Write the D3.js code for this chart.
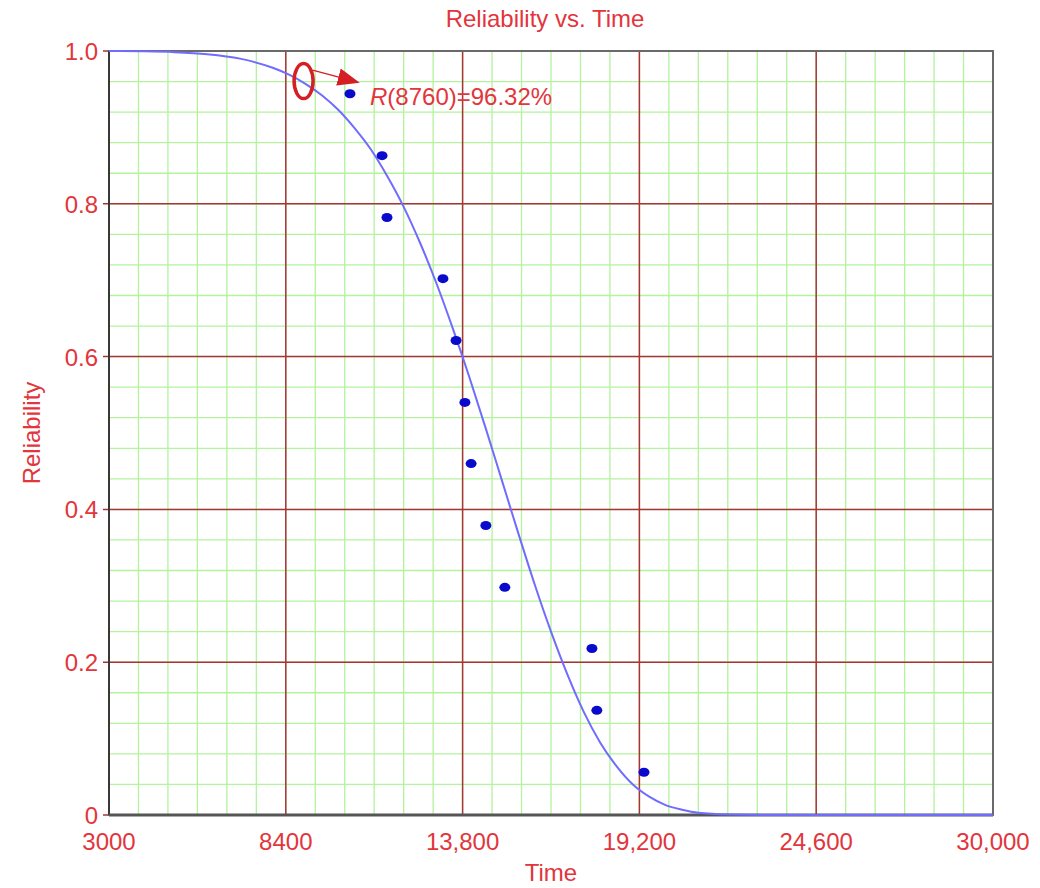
<!DOCTYPE html>
<html>
<head>
<meta charset="utf-8">
<script src="https://cdn.jsdelivr.net/npm/d3@7"></script>
<style>
  body { margin: 0; background: #fff; }
  text { font-family: "Liberation Sans", Arial, sans-serif; }
</style>
</head>
<body>
<script>
// data points (time, median rank reliability)
const pointTimes = [10360, 11340, 11490, 13200, 13600, 13870, 14060, 14510, 15090, 17750, 17900, 19340];
const pointRel = [0.944, 0.863, 0.782, 0.702, 0.621, 0.540, 0.460, 0.379, 0.298, 0.218, 0.137, 0.056];

// fitted reliability line
const curveTimes = [3000, 4000, 5000, 6000, 7000, 8000, 8500, 9000, 9500, 10000, 10500, 11000, 11500, 12000, 12500, 13000, 13500, 14000, 14500, 15000, 15500, 16000, 16500, 17000, 17500, 18000, 18500, 19000, 19500, 20000, 20500, 21000, 22000, 23000, 30000];
const curveRel = [1.000, 0.9996, 0.9985, 0.9958, 0.990, 0.978, 0.969, 0.957, 0.942, 0.923, 0.899, 0.871, 0.836, 0.796, 0.749, 0.696, 0.637, 0.574, 0.507, 0.438, 0.369, 0.302, 0.240, 0.184, 0.135, 0.095, 0.064, 0.040, 0.024, 0.013, 0.007, 0.003, 0.0007, 0.0001, 0];

const xTicks = [3000, 8400, 13800, 19200, 24600, 30000];
const xTickLabels = ["3000", "8400", "13,800", "19,200", "24,600", "30,000"];
const yTicks = [0, 0.2, 0.4, 0.6, 0.8, 1.0];
const yTickLabels = ["0", "0.2", "0.4", "0.6", "0.8", "1.0"];

const annotTime = 8760;
const annotRel = 0.9632;

const W = 1040, H = 888;
const margin = {top: 51, right: 47, bottom: 73, left: 109};
const red = "#e2353c";
const darkRed = "#d42024";

const svg = d3.select("body").append("svg")
  .attr("width", W)
  .attr("height", H);

const x = d3.scaleLinear().domain([3000, 30000]).range([margin.left, W - margin.right]);
const y = d3.scaleLinear().domain([0, 1]).range([H - margin.bottom, margin.top]);

// minor grid
const minorX = d3.range(3000, 30001, 900);
const minorY = d3.range(0, 1.0001, 0.04);
svg.append("g").selectAll("line").data(minorX).join("line")
  .attr("x1", d => x(d)).attr("x2", d => x(d))
  .attr("y1", y(0)).attr("y2", y(1))
  .attr("stroke", "#b2f39c").attr("stroke-width", 1.3);
svg.append("g").selectAll("line").data(minorY).join("line")
  .attr("x1", x(3000)).attr("x2", x(30000))
  .attr("y1", d => y(d)).attr("y2", d => y(d))
  .attr("stroke", "#b2f39c").attr("stroke-width", 1.3);

// major grid
svg.append("g").selectAll("line").data(xTicks).join("line")
  .attr("x1", d => x(d)).attr("x2", d => x(d))
  .attr("y1", y(0)).attr("y2", y(1))
  .attr("stroke", "#a83438").attr("stroke-width", 1.5);
svg.append("g").selectAll("line").data(yTicks).join("line")
  .attr("x1", x(3000) - 6).attr("x2", x(30000))
  .attr("y1", d => y(d)).attr("y2", d => y(d))
  .attr("stroke", "#a83438").attr("stroke-width", 1.5);

// frame
svg.append("rect")
  .attr("x", x(3000)).attr("y", y(1))
  .attr("width", x(30000) - x(3000)).attr("height", y(0) - y(1))
  .attr("fill", "none").attr("stroke", "#6a6a6a").attr("stroke-width", 2);
svg.append("line")
  .attr("x1", x(3000)).attr("x2", x(3000))
  .attr("y1", y(0)).attr("y2", y(1))
  .attr("stroke", "#383838").attr("stroke-width", 2);
svg.append("line")
  .attr("x1", x(3000)).attr("x2", x(30000))
  .attr("y1", y(0)).attr("y2", y(0))
  .attr("stroke", "#555").attr("stroke-width", 3);

// curve
const line = d3.line()
  .x((d, i) => x(curveTimes[i]))
  .y(d => y(d))
  .curve(d3.curveMonotoneX);
svg.append("path")
  .datum(curveRel)
  .attr("d", line)
  .attr("fill", "none")
  .attr("stroke", "#6f6cff")
  .attr("stroke-width", 2);

// points
svg.append("g").selectAll("ellipse").data(pointTimes).join("ellipse")
  .attr("cx", d => x(d))
  .attr("cy", (d, i) => y(pointRel[i]))
  .attr("rx", 5.5).attr("ry", 4.5)
  .attr("fill", "#0a0acc");

// tick labels
svg.append("g").selectAll("text").data(xTicks).join("text")
  .attr("x", d => x(d)).attr("y", y(0) + 35)
  .attr("text-anchor", "middle")
  .attr("font-size", 24).attr("fill", red)
  .text((d, i) => xTickLabels[i]);
svg.append("g").selectAll("text").data(yTicks).join("text")
  .attr("x", x(3000) - 11).attr("y", d => y(d) + 9)
  .attr("text-anchor", "end")
  .attr("font-size", 24).attr("fill", red)
  .text((d, i) => yTickLabels[i]);

// titles
svg.append("text")
  .attr("x", 545).attr("y", 27)
  .attr("text-anchor", "middle")
  .attr("font-size", 24).attr("fill", red)
  .text("Reliability vs. Time");
svg.append("text")
  .attr("x", (x(3000) + x(30000)) / 2).attr("y", 881)
  .attr("text-anchor", "middle")
  .attr("font-size", 24).attr("fill", red)
  .text("Time");
svg.append("text")
  .attr("transform", `translate(40,${(y(0) + y(1)) / 2}) rotate(-90)`)
  .attr("text-anchor", "middle")
  .attr("font-size", 24).attr("fill", red)
  .text("Reliability");

// annotation
const ax = x(annotTime) + 6, ay = y(annotRel) + 2;
svg.append("ellipse")
  .attr("cx", ax).attr("cy", ay)
  .attr("rx", 9.5).attr("ry", 17.5)
  .attr("fill", "none").attr("stroke", darkRed).attr("stroke-width", 3.5);
svg.append("defs").append("marker")
  .attr("id", "arrow")
  .attr("viewBox", "0 0 10 8")
  .attr("refX", 9).attr("refY", 4)
  .attr("markerWidth", 22).attr("markerHeight", 17.6)
  .attr("markerUnits", "userSpaceOnUse")
  .attr("orient", "auto")
  .append("path")
  .attr("d", "M0,0 L10,4 L0,8 Z")
  .attr("fill", darkRed);
svg.append("line")
  .attr("x1", ax + 9).attr("y1", ay - 11)
  .attr("x2", ax + 54).attr("y2", ay + 1)
  .attr("stroke", darkRed).attr("stroke-width", 1.5)
  .attr("marker-end", "url(#arrow)");
const ann = svg.append("text")
  .attr("x", 370).attr("y", 105)
  .attr("font-size", 24).attr("fill", red);
ann.append("tspan").attr("font-style", "italic").text("R");
ann.append("tspan").text("(8760)=96.32%");
</script>
</body>
</html>
